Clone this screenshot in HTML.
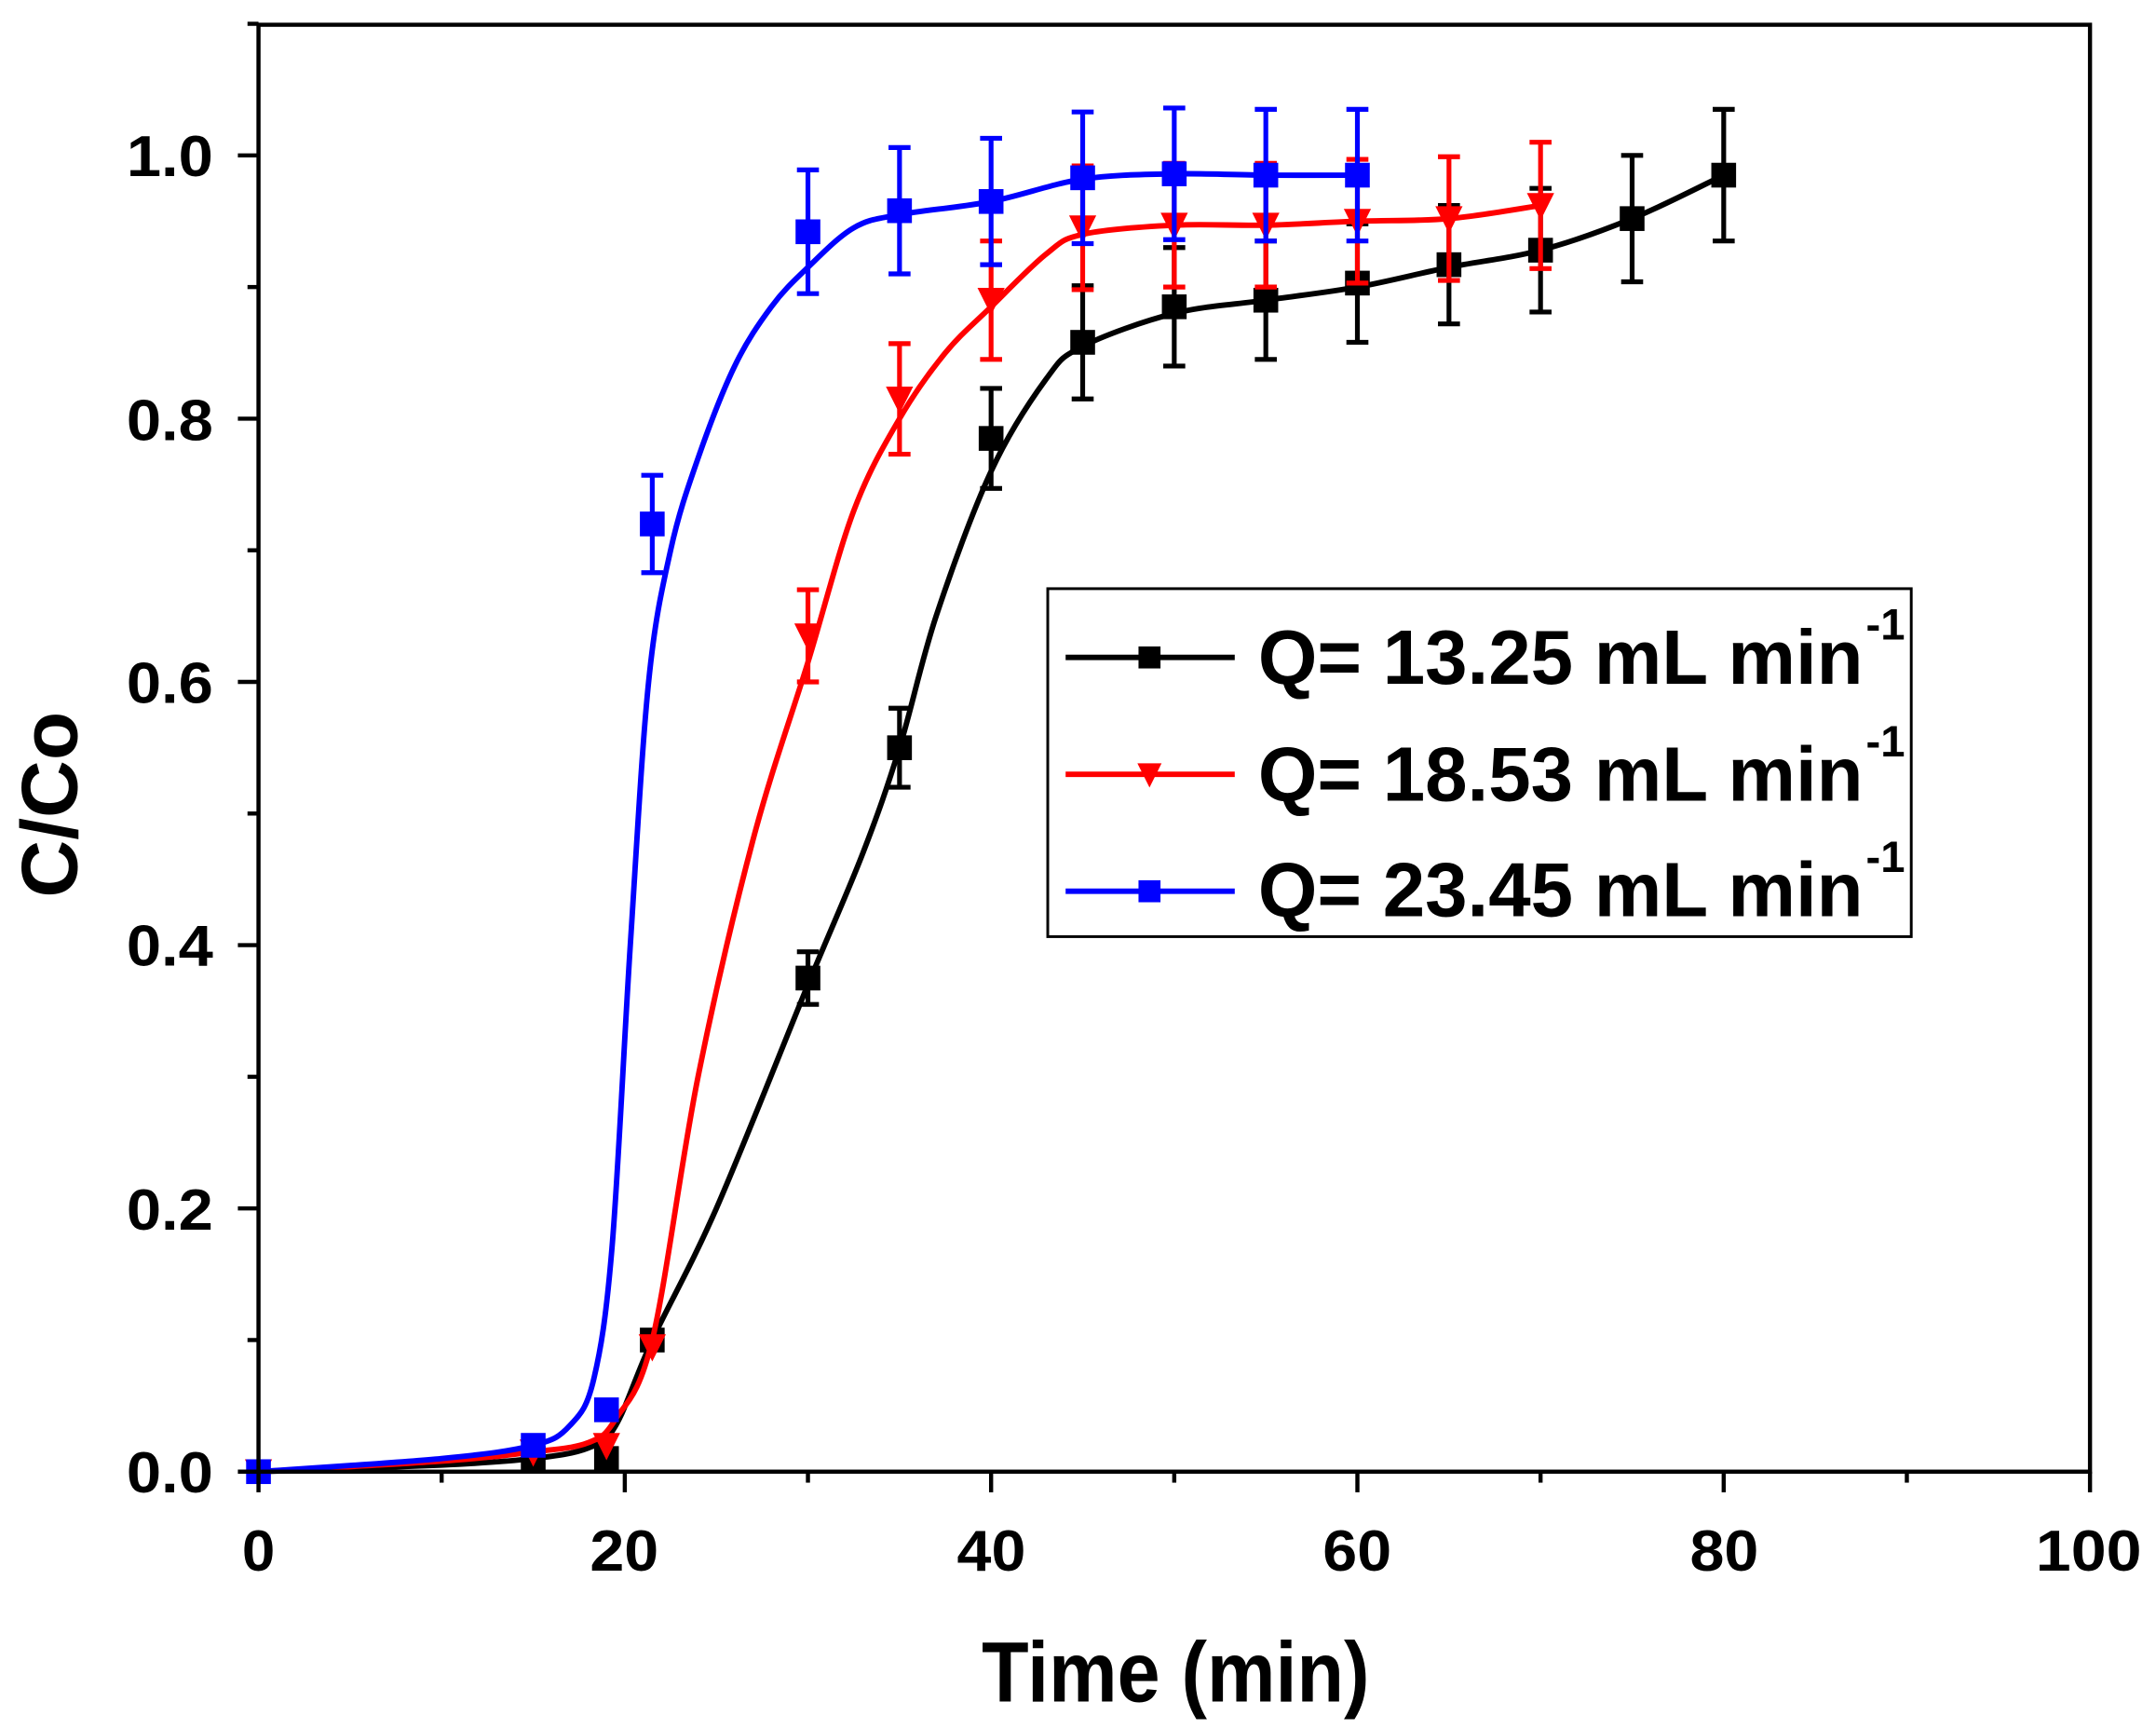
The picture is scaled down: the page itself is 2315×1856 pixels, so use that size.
<!DOCTYPE html>
<html><head><meta charset="utf-8"><style>
html,body{margin:0;padding:0;background:#fff;}
svg{display:block;}
text{font-family:"Liberation Sans",Arial,sans-serif;font-weight:bold;fill:#000;}
</style></head><body>
<svg id="s" width="2315" height="1856" viewBox="0 0 1568 1257.1" xmlns="http://www.w3.org/2000/svg">
<rect x="0" y="0" width="1568" height="1258" fill="#fff"/>
<g id="plot"></g>
<rect x="188" y="18" width="1332" height="1052" fill="none" stroke="#000" stroke-width="3"/>
<g id="ticks" stroke="#000" stroke-width="3"></g>
<g font-size="42" text-anchor="end">
<text x="155" y="1085" textLength="63" lengthAdjust="spacingAndGlyphs">0.0</text>
<text x="155" y="894" textLength="63" lengthAdjust="spacingAndGlyphs">0.2</text>
<text x="155" y="702" textLength="63" lengthAdjust="spacingAndGlyphs">0.4</text>
<text x="155" y="511" textLength="63" lengthAdjust="spacingAndGlyphs">0.6</text>
<text x="155" y="320" textLength="63" lengthAdjust="spacingAndGlyphs">0.8</text>
<text x="155" y="128" textLength="63" lengthAdjust="spacingAndGlyphs">1.0</text>
</g>
<g font-size="42" text-anchor="middle">
<text x="188" y="1142" textLength="24" lengthAdjust="spacingAndGlyphs">0</text>
<text x="454" y="1142" textLength="50" lengthAdjust="spacingAndGlyphs">20</text>
<text x="721" y="1142" textLength="50" lengthAdjust="spacingAndGlyphs">40</text>
<text x="987" y="1142" textLength="50" lengthAdjust="spacingAndGlyphs">60</text>
<text x="1254" y="1142" textLength="50" lengthAdjust="spacingAndGlyphs">80</text>
<text x="1519" y="1142" textLength="77" lengthAdjust="spacingAndGlyphs">100</text>
</g>
<text x="855" y="1237" font-size="62" text-anchor="middle" textLength="282" lengthAdjust="spacingAndGlyphs">Time (min)</text>
<text transform="translate(56,585) rotate(-90)" font-size="58" text-anchor="middle">C/Co</text>
<rect x="762" y="428" width="628" height="253" fill="#fff" stroke="#000" stroke-width="2"/>
<g id="leg"></g>
<g font-size="56">
<text x="915" y="497" textLength="440" lengthAdjust="spacingAndGlyphs">Q= 13.25 mL min</text>
<text x="1357" y="465" font-size="32">-1</text>
<text x="915" y="582" textLength="440" lengthAdjust="spacingAndGlyphs">Q= 18.53 mL min</text>
<text x="1357" y="550" font-size="32">-1</text>
<text x="915" y="666" textLength="440" lengthAdjust="spacingAndGlyphs">Q= 23.45 mL min</text>
<text x="1357" y="634" font-size="32">-1</text>
</g>
</svg>
<script>
var NS="http://www.w3.org/2000/svg";
function X(t){return 188+13.32*t;}
function Y(v){return 1070-957*v;}
function el(p,tag,a){var e=document.createElementNS(NS,tag);for(var k in a)e.setAttribute(k,a[k]);p.appendChild(e);return e;}
var tk=document.getElementById('ticks');
for(var i=0;i<=11;i++){var y=Y(i*0.1);el(tk,'line',{x1:188,x2:188-(i%2?8:15),y1:y,y2:y});}
for(var i=0;i<=10;i++){var x=X(i*10);el(tk,'line',{x1:x,x2:x,y1:1070,y2:1070+(i%2?8:15)});}
function path(pts){
 var P=pts.map(function(p){return [X(p[0]),Y(p[1])];});
 var d="M"+P[0][0]+","+P[0][1];
 for(var i=0;i<P.length-1;i++){
  var p0=P[i-1]||P[i],p1=P[i],p2=P[i+1],p3=P[i+2]||P[i+1];
  var c1=[p1[0]+(p2[0]-p0[0])/6,p1[1]+(p2[1]-p0[1])/6];
  var c2=[p2[0]-(p3[0]-p1[0])/6,p2[1]-(p3[1]-p1[1])/6];
  d+=" C"+c1+" "+c2+" "+p2;
 }
 return d;
}
var series=[
 {c:"#000",m:"sq",
  curve:[[0,0],[10,0.005],[15,0.01],[18,0.018],[19.5,0.035],[21.5,0.1],[25,0.2],[30,0.37],[33,0.47],[35,0.55],[37,0.65],[40,0.76],[43,0.83],[45,0.855],[50,0.88],[55,0.89],[60,0.9],[65,0.915],[70,0.928],[75,0.952],[80,0.985]],
  pts:[[15,0.01,0],[19,0.01,0],[21.5,0.1,0],[30,0.375,0.02],[35,0.55,0.03],[40,0.785,0.038],[45,0.858,0.043],[50,0.885,0.045],[55,0.89,0.045],[60,0.903,0.045],[65,0.917,0.045],[70,0.928,0.047],[75,0.952,0.048],[80,0.985,0.05]]},
 {c:"#f00",m:"tri",
  curve:[[0,0],[10,0.008],[15,0.015],[18,0.022],[19.5,0.04],[21.5,0.1],[24,0.3],[27,0.48],[30,0.615],[32.5,0.73],[35,0.8],[37.5,0.85],[40,0.885],[43,0.925],[45,0.94],[50,0.947],[55,0.947],[60,0.95],[65,0.952],[70,0.962]],
  pts:[[0,0,0],[15,0.015,0],[19,0.02,0],[21.5,0.095,0],[30,0.635,0.035],[35,0.815,0.042],[40,0.89,0.045],[45,0.945,0.047],[50,0.947,0.047],[55,0.947,0.047],[60,0.95,0.047],[65,0.952,0.047],[70,0.962,0.048]]},
 {c:"#00f",m:"sq",
  curve:[[0,0],[10,0.01],[15,0.02],[17,0.035],[18.3,0.07],[19.3,0.17],[20.3,0.4],[21.3,0.6],[22.5,0.7],[24,0.77],[26,0.84],[28,0.885],[30,0.915],[32.5,0.945],[35,0.955],[40,0.965],[45,0.982],[50,0.986],[55,0.985],[60,0.985]],
  pts:[[0,0,0],[15,0.02,0],[19,0.047,0],[21.5,0.72,0.037],[30,0.942,0.047],[35,0.958,0.048],[40,0.965,0.048],[45,0.983,0.05],[50,0.986,0.05],[55,0.985,0.05],[60,0.985,0.05]]}
];
var g=document.getElementById('plot');
function marker(p,m,c,x,y,s){
 if(m=="sq")el(p,'rect',{x:x-s,y:y-s,width:2*s,height:2*s,fill:c});
 else el(p,'polygon',{points:(x-s*1.1)+","+(y-s)+" "+(x+s*1.1)+","+(y-s)+" "+x+","+(y+s*1.2),fill:c});
}
series.forEach(function(s){
 el(g,'path',{d:path(s.curve),fill:"none",stroke:s.c,"stroke-width":4});
 s.pts.forEach(function(p){
  var x=X(p[0]),y=Y(p[1]);
  if(p[2]>0){var y1=Y(p[1]+p[2]),y2=Y(p[1]-p[2]);
   el(g,'line',{x1:x,x2:x,y1:y1,y2:y2,stroke:s.c,"stroke-width":3.5});
   el(g,'line',{x1:x-8,x2:x+8,y1:y1,y2:y1,stroke:s.c,"stroke-width":3.5});
   el(g,'line',{x1:x-8,x2:x+8,y1:y2,y2:y2,stroke:s.c,"stroke-width":3.5});}
  marker(g,s.m,s.c,x,y,9);
 });
});
var lg=document.getElementById('leg');
[[478,0],[563,1],[648,2]].forEach(function(r){var s=series[r[1]];
 el(lg,'line',{x1:775,x2:898,y1:r[0],y2:r[0],stroke:s.c,"stroke-width":4});
 marker(lg,s.m,s.c,836,r[0],8);
});
</script>
</body></html>
